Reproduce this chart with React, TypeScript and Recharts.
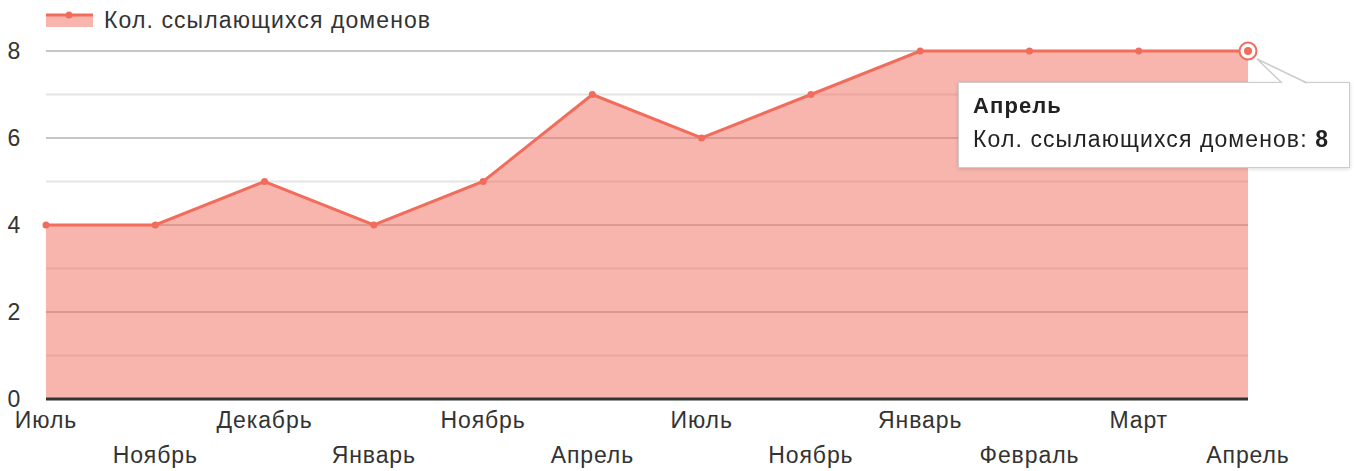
import { AreaChart, Area, XAxis, YAxis, CartesianGrid, Tooltip, Legend } from 'recharts';

const months = ['Июль', 'Ноябрь', 'Декабрь', 'Январь', 'Ноябрь', 'Апрель', 'Июль', 'Ноябрь', 'Январь', 'Февраль', 'Март', 'Апрель'];
const domains = [4, 4, 5, 4, 5, 7, 6, 7, 8, 8, 8, 8];
const yTicks = [0, 1, 2, 3, 4, 5, 6, 7, 8];
const yLabels = [0, 2, 4, 6, 8];
const seriesName = 'Кол. ссылающихся доменов';

// month names repeat, so the x key is the position
const data = months.map((m, i) => ({ idx: i, month: m, value: domains[i] }));

const LINE = '#f26c5c';
const FONT = '"Liberation Sans", Arial, sans-serif';
const FS = 23;
const LS = 1.1;

const XTick = (props: any) => {
  const { x, y, payload } = props;
  const i = payload.value as number;
  const dy = i % 2 === 0 ? 21 : 56;
  return (
    <text x={x} y={y + dy} textAnchor="middle" fontSize={FS} letterSpacing={0.9} fill="#333" fontFamily={FONT}>
      {months[i]}
    </text>
  );
};

const YTick = (props: any) => {
  const { y, payload } = props;
  if (!yLabels.includes(payload.value)) return <g />;
  return (
    <text x={14} y={y + 8} textAnchor="middle" fontSize={FS} fill="#333" fontFamily={FONT}>
      {payload.value}
    </text>
  );
};

const LegendBox = () => (
  <div style={{ display: 'flex', alignItems: 'center', height: 36, paddingLeft: 46, fontFamily: FONT }}>
    <svg width={48} height={24} style={{ marginRight: 10 }}>
      <rect x={0} y={7} width={47} height={12} fill={LINE} fillOpacity={0.5} />
      <line x1={0} y1={7} x2={47} y2={7} stroke={LINE} strokeWidth={3} />
      <circle cx={23} cy={7} r={3.5} fill={LINE} />
    </svg>
    <span style={{ fontSize: FS, letterSpacing: LS, color: '#333' }}>{seriesName}</span>
  </div>
);

const TipBox = (props: any) => {
  const { active, payload } = props;
  if (!active || !payload || !payload.length) return null;
  const p = payload[0];
  return (
    <div style={{ position: 'relative', width: 392, height: 86, background: '#fff', border: '1.5px solid #ccc', boxShadow: '0 1px 4px rgba(0,0,0,0.15)', boxSizing: 'border-box', padding: '10px 14px', fontFamily: FONT, color: '#222', lineHeight: '26px' }}>
      <svg width={392} height={31} style={{ position: 'absolute', left: -1.5, top: -30, overflow: 'visible' }}>
        <polygon points="324,31 299,6 349,31" fill="#fff" />
        <polyline points="324,30 299,6 349,30" fill="none" stroke="#ccc" strokeWidth={1.5} />
      </svg>
      <div style={{ fontSize: 22, fontWeight: 'bold', letterSpacing: LS, marginBottom: 7 }}>{p.payload.month}</div>
      <div style={{ fontSize: 23, letterSpacing: LS, whiteSpace: 'nowrap' }}>
        {seriesName}: <b>{p.value}</b>
      </div>
    </div>
  );
};

const ActiveDot = (props: any) => {
  const { cx, cy } = props;
  return (
    <g>
      <circle cx={cx} cy={cy} r={8.5} fill="#fff" stroke={LINE} strokeWidth={2} />
      <circle cx={cx} cy={cy} r={4} fill={LINE} />
    </g>
  );
};

export default function App() {
  return (
    <div style={{ position: 'fixed', left: 0, top: 0, background: '#fff' }}>
      <AreaChart width={1354} height={471} data={data} margin={{ top: 15, right: 106, bottom: 0, left: 8 }}>
        <CartesianGrid stroke="#e4e4e4" strokeWidth={2} vertical={false} horizontalValues={[1, 3, 5, 7]} syncWithTicks={false} />
        <CartesianGrid stroke="#c6c6c6" strokeWidth={2} vertical={false} horizontalValues={[2, 4, 6, 8]} syncWithTicks={false} />
        <XAxis dataKey="idx" type="category" interval={0} tickLine={false} axisLine={{ stroke: '#333', strokeWidth: 3 }} height={72} tick={<XTick />} />
        <YAxis domain={[0, 8]} ticks={yTicks} interval={0} width={38} tickLine={false} axisLine={false} tick={<YTick />} />
        <Legend verticalAlign="top" align="left" content={<LegendBox />} wrapperStyle={{ top: 2, left: 0 }} />
        <Tooltip
          defaultIndex={11}
          active
          cursor={false}
          isAnimationActive={false}
          position={{ x: 958, y: 82 }}
          allowEscapeViewBox={{ x: true, y: true }}
          content={<TipBox />}
          wrapperStyle={{ transition: 'none', outline: 'none' }}
        />
        <Area
          type="linear"
          dataKey="value"
          name={seriesName}
          stroke={LINE}
          strokeWidth={3}
          fill={LINE}
          fillOpacity={0.5}
          dot={{ r: 3.5, fill: LINE, stroke: 'none', fillOpacity: 1 }}
          activeDot={<ActiveDot />}
          isAnimationActive={false}
        />
      </AreaChart>
    </div>
  );
}
